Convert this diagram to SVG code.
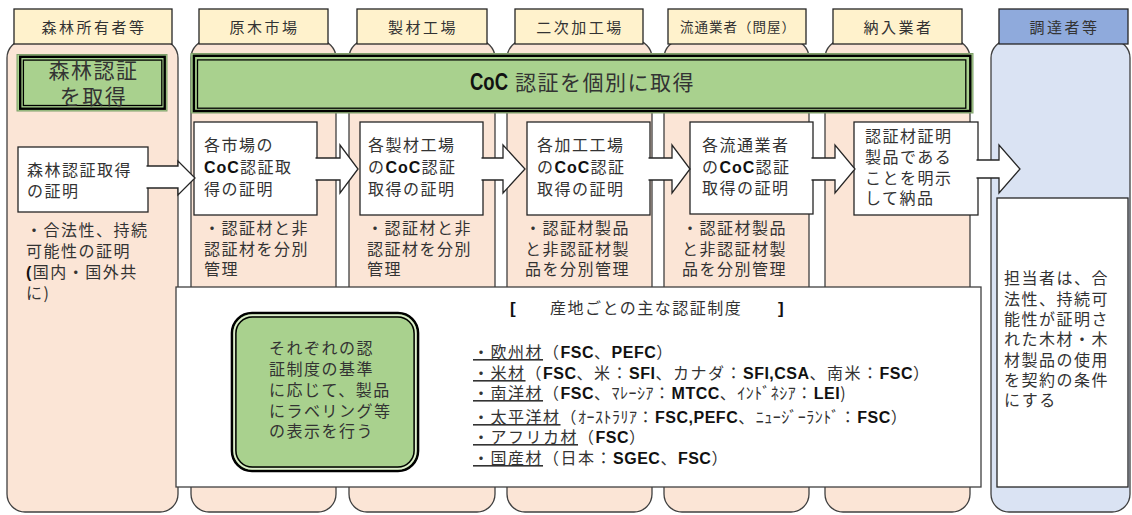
<svg xmlns="http://www.w3.org/2000/svg" width="1132" height="515" viewBox="0 0 1132 515">
<style>
.col{fill:#FBE5D6;stroke:#404040;stroke-width:1.3}
.colb{fill:#DAE3F3;stroke:#404040;stroke-width:1.3}
.tab{fill:#FFF2CC;stroke:#262626;stroke-width:1.3}
.tabb{fill:#8FAADC;stroke:#262626;stroke-width:1.3}
.box{fill:#fff;stroke:#262626;stroke-width:1.3}
.g0{fill:#A9D18E;stroke:#7f9f6a;stroke-width:1}
.g1{fill:none;stroke:#000;stroke-width:2.4}
.g2{fill:none;stroke:#000;stroke-width:1.3}
.t{font-family:'Noto Sans CJK JP','Noto Sans CJK SC',sans-serif;font-size:16px;letter-spacing:1.5px;fill:#333}
.h{font-size:15px;letter-spacing:2.5px;text-anchor:middle}
.b{font-family:'Liberation Sans',Arial,sans-serif;font-weight:bold;fill:#111}
.c{font-size:16px;letter-spacing:1px}
.k{letter-spacing:0.5px}
.arr{fill:#fff;stroke:#262626;stroke-width:1.3;stroke-linejoin:miter}
.u{text-decoration:underline}
</style>
<rect width="1132" height="515" fill="#fff"/>

<g id="col-owner">
<rect class="col" x="7" y="40" width="171" height="472" rx="18"/>
<rect class="tab" x="14" y="9" width="158" height="35"/>
<text class="t h" x="94" y="32.5">森林所有者等</text>
</g>
<g id="col-market">
<rect class="col" x="191" y="40" width="145" height="472" rx="18"/>
<rect class="tab" x="199" y="9" width="129" height="35"/>
<text class="t h" x="264.5" y="32.5">原木市場</text>
</g>
<g id="col-sawmill">
<rect class="col" x="349" y="40" width="146" height="472" rx="18"/>
<rect class="tab" x="357" y="9" width="130" height="35"/>
<text class="t h" x="423" y="32.5">製材工場</text>
</g>
<g id="col-processing">
<rect class="col" x="507" y="40" width="145" height="472" rx="18"/>
<rect class="tab" x="515" y="9" width="128" height="35"/>
<text class="t h" x="580" y="32.5">二次加工場</text>
</g>
<g id="col-distributor">
<rect class="col" x="664" y="40" width="145" height="472" rx="18"/>
<rect class="tab" x="668" y="9" width="138" height="35"/>
<text class="t h" x="738" y="32" style="font-size:13.5px;letter-spacing:1px">流通業者（問屋）</text>
</g>
<g id="col-supplier">
<rect class="col" x="825" y="40" width="145" height="472" rx="18"/>
<rect class="tab" x="833" y="9" width="129" height="35"/>
<text class="t h" x="898.5" y="32.5">納入業者</text>
</g>
<g id="col-procurer">
<rect class="colb" x="991" y="40" width="139" height="472" rx="18"/>
<rect class="tabb" x="999" y="9" width="129" height="35"/>
<text class="t h" x="1064.5" y="32.5">調達者等</text>
</g>

<g id="banner-forest">
<rect class="g0" x="17" y="54.5" width="150" height="56.5"/>
<rect class="g1" x="20.2" y="56.8" width="144.5" height="51.9"/>
<rect class="g2" x="23.4" y="60.1" width="138.4" height="45.4"/>
<text class="t" x="93.5" y="77.5" text-anchor="middle" style="font-size:21px">森林認証</text>
<text class="t" x="93.5" y="103.5" text-anchor="middle" style="font-size:21px">を取得</text>
</g>
<g id="banner-coc">
<rect class="g0" x="191" y="53.5" width="782" height="59.5"/>
<rect class="g1" x="193.9" y="55.8" width="776.4" height="55.2"/>
<rect class="g2" x="197.5" y="59.9" width="768.3" height="48.3"/>
<text class="b" x="470" y="89.5" style="font-size:24px" textLength="38" lengthAdjust="spacingAndGlyphs">CoC</text>
<text class="t" x="515" y="89.5" style="font-size:21px">認証を個別に取得</text>
</g>

<g id="box-forest">
<rect class="box" x="18" y="147" width="130" height="65"/>
<text class="t" x="27" y="176">森林認証取得</text>
<text class="t" x="27" y="197">の証明</text>
<text class="t" x="26" y="236">・合法性、持続</text>
<text class="t" x="26" y="257">可能性の証明</text>
<text class="t" x="26" y="278"><tspan class="b">(</tspan>国内・国外共</text>
<text class="t" x="26" y="299">に)</text>
</g>
<g id="box-market">
<rect class="box" x="194" y="122" width="123" height="93"/>
<text class="t" x="204" y="151">各市場の</text>
<text class="t" x="204" y="173"><tspan class="b c">CoC</tspan>認証取</text>
<text class="t" x="204" y="195">得の証明</text>
<text class="t" x="204" y="234">・認証材と非</text>
<text class="t" x="204" y="255">認証材を分別</text>
<text class="t" x="204" y="275">管理</text>
</g>
<g id="box-sawmill">
<rect class="box" x="360" y="122" width="123" height="93"/>
<text class="t" x="368" y="151">各製材工場</text>
<text class="t" x="368" y="173">の<tspan class="b c">CoC</tspan>認証</text>
<text class="t" x="368" y="195">取得の証明</text>
<text class="t" x="367" y="234">・認証材と非</text>
<text class="t" x="367" y="255">認証材を分別</text>
<text class="t" x="367" y="275">管理</text>
</g>
<g id="box-processing">
<rect class="box" x="527" y="122" width="123" height="93"/>
<text class="t" x="537" y="151">各加工工場</text>
<text class="t" x="537" y="173">の<tspan class="b c">CoC</tspan>認証</text>
<text class="t" x="537" y="195">取得の証明</text>
<text class="t" x="525" y="234">・認証材製品</text>
<text class="t" x="525" y="255">と非認証材製</text>
<text class="t" x="525" y="275">品を分別管理</text>
</g>
<g id="box-distributor">
<rect class="box" x="690" y="122" width="123" height="92"/>
<text class="t" x="702" y="151">各流通業者</text>
<text class="t" x="702" y="173">の<tspan class="b c">CoC</tspan>認証</text>
<text class="t" x="702" y="194">取得の証明</text>
<text class="t" x="682" y="234">・認証材製品</text>
<text class="t" x="682" y="255">と非認証材製</text>
<text class="t" x="682" y="275">品を分別管理</text>
</g>
<g id="box-supplier">
<rect class="box" x="854" y="122" width="124" height="93"/>
<text class="t" x="865" y="142">認証材証明</text>
<text class="t" x="865" y="163">製品である</text>
<text class="t" x="865" y="184">ことを明示</text>
<text class="t" x="865" y="204">して納品</text>
</g>
<g id="box-procurer">
<rect class="box" x="997" y="198" width="131" height="289"/>
<text class="t" x="1004" y="284">担当者は、合</text>
<text class="t" x="1004" y="304.5">法性、持続可</text>
<text class="t" x="1004" y="325">能性が証明さ</text>
<text class="t" x="1004" y="345">れた木材・木</text>
<text class="t" x="1004" y="365.5">材製品の使用</text>
<text class="t" x="1004" y="386">を契約の条件</text>
<text class="t" x="1004" y="406">にする</text>
</g>

<g id="box-schemes">
<rect class="box" x="176" y="287" width="805" height="200" style="stroke:#404040"/>
<text class="b" x="510" y="314" style="font-size:17px">[</text>
<text class="t" x="550" y="314">産地ごとの主な認証制度</text>
<text class="b" x="778" y="314" style="font-size:17px">]</text>
<text class="t" x="473" y="358"><tspan class="u">・欧州材</tspan>（<tspan class="b c k">FSC</tspan>、<tspan class="b c k">PEFC</tspan>）</text>
<text class="t" x="473" y="379"><tspan class="u">・米材</tspan>（<tspan class="b c k">FSC</tspan>、米：<tspan class="b c k">SFI</tspan>、カナダ：<tspan class="b c k">SFI,CSA</tspan>、南米：<tspan class="b c k">FSC</tspan>）</text>
<text class="t" x="473" y="399"><tspan class="u">・南洋材</tspan>（<tspan class="b c k">FSC</tspan>、<tspan class="k">ﾏﾚｰｼｱ</tspan>：<tspan class="b c k">MTCC</tspan>、<tspan class="k">ｲﾝﾄﾞﾈｼｱ</tspan>：<tspan class="b c k">LEI</tspan>)</text>
<text class="t" x="473" y="423"><tspan class="u">・太平洋材</tspan>（<tspan class="k">ｵｰｽﾄﾗﾘｱ</tspan>：<tspan class="b c k">FSC,PEFC</tspan>、<tspan class="k">ﾆｭｰｼﾞｰﾗﾝﾄﾞ</tspan>：<tspan class="b c k">FSC</tspan>）</text>
<text class="t" x="473" y="443"><tspan class="u">・アフリカ材</tspan>（<tspan class="b c k">FSC</tspan>）</text>
<text class="t" x="473" y="464"><tspan class="u">・国産材</tspan>（日本：<tspan class="b c k">SGEC</tspan>、<tspan class="b c k">FSC</tspan>）</text>
</g>
<g id="box-labeling">
<rect x="232" y="313" width="186" height="158" rx="20" fill="#A9D18E" stroke="#000" stroke-width="2.6"/>
<rect x="234.2" y="315.2" width="181.6" height="153.6" rx="18" fill="none" stroke="#dfeccf" stroke-width="1.6"/>
<rect x="235.9" y="316.9" width="178.2" height="150.2" rx="16.5" fill="none" stroke="#000" stroke-width="1.5"/>
<text class="t" x="269" y="354">それぞれの認</text>
<text class="t" x="269" y="375">証制度の基準</text>
<text class="t" x="269" y="396">に応じて、製品</text>
<text class="t" x="269" y="417">にラベリング等</text>
<text class="t" x="269" y="437">の表示を行う</text>
</g>

<g id="connectors">
<path class="arr" d="M146.5,166 H178 V161 L195,178 L178,195 V188 H146.5"/>
<path class="arr" d="M315.5,158 H340 V145 L358,169 L340,193 V180 H315.5"/>
<path class="arr" d="M481.5,158 H503 V145 L525,169 L503,193 V180 H481.5"/>
<path class="arr" d="M648.5,158 H672 V145 L690,169 L672,193 V180 H648.5"/>
<path class="arr" d="M811.5,158 H835 V145 L855,169 L835,193 V180 H811.5"/>
<path class="arr" d="M976.5,160 H999 V145 L1020,169 L999,193 V178 H976.5"/>
</g>
</svg>
